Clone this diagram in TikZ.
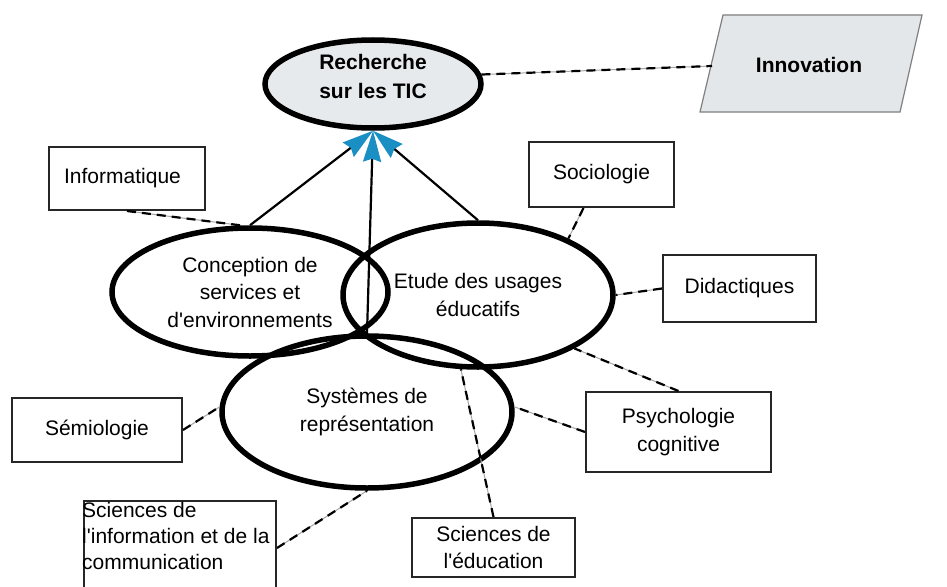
\documentclass[tikz,border=0pt]{standalone}
\usepackage{fontspec}
\setmainfont{Liberation Sans}
\usetikzlibrary{arrows.meta,shapes.geometric}
\definecolor{tipblue}{HTML}{1A8FC4}
\definecolor{topfill}{HTML}{E6EAEC}
\definecolor{innofill}{HTML}{E3E7E9}
\begin{document}
\begin{tikzpicture}[x=1pt,y=-1pt,
  lbl/.style={font=\fontsize{21}{27.5}\selectfont, align=center},
  disc/.style={draw=black, line width=5.5pt, ellipse, inner sep=0pt, lbl},
  boxn/.style={draw=black!85, line width=2pt, rectangle, inner sep=0pt, lbl},
  link/.style={draw=black, line width=2.2pt, dash pattern=on 9pt off 6pt,
     preaction={draw=black!35, line width=1pt, solid}},
  feed/.style={draw=black, line width=2.2pt,
     -{Stealth[length=31pt,width=18pt,inset=3pt,color=tipblue]}}
]
\useasboundingbox[fill=white] (0,0) rectangle (947,586);

% top node and Innovation
\node[disc, fill=topfill, minimum width=216pt, minimum height=88pt,
      font=\fontsize{21}{29}\selectfont\bfseries] (top) at (373,84)
      {\raisebox{1pt}[0pt][0pt]{\begin{tabular}{@{}c@{}}Recherche\\[0pt]sur les TIC\end{tabular}}};
\coordinate (innoBL) at (700,112);
\coordinate (innoTL) at (723,15);
\coordinate (innoTR) at (922,15);
\coordinate (innoBR) at (900,112);
\coordinate (innoL) at (712,66);
\draw[draw=black!50, line width=1.2pt, fill=innofill]
  (innoBL) -- (innoTL) -- (innoTR) -- (innoBR) -- cycle;
\node[font=\fontsize{21}{27}\selectfont\bfseries] (inno) at (809,65) {Innovation};

% main areas
\node[disc, minimum width=276pt, minimum height=128pt] (conc) at (250,292)
      {Conception de\\services et\\d\textquotesingle environnements};
\node[disc, minimum width=270pt, minimum height=144pt] (usage) at (478,295)
      {Etude des usages\\éducatifs};
\node[disc, minimum width=290pt, minimum height=152pt] (sys) at (367,412)
      {Systèmes de\\représentation};

% boxes
\node[boxn, minimum width=156pt, minimum height=63pt] (info) at (127,178.5)
      {\hspace*{-9pt}Informatique};
\node[boxn, minimum width=145pt, minimum height=65pt] (soc) at (601.5,174.5) {Sociologie};
\node[boxn, minimum width=153pt, minimum height=67pt] (did) at (739.5,288.5) {Didactiques};
\node[boxn, minimum width=185pt, minimum height=80pt] (psy) at (678.5,432) {Psychologie\\cognitive};
\node[boxn, minimum width=163pt, minimum height=59pt] (sed) at (493.5,547.5)
      {Sciences de\\l\textquotesingle éducation};
\node[boxn, minimum width=170pt, minimum height=64pt] (sem) at (97,430) {Sémiologie};
\node[boxn, minimum width=192pt, minimum height=120pt, anchor=north west] (sic) at (83,500) {};
\node[lbl, align=left, anchor=north west, inner sep=0pt,
      font=\fontsize{21}{26}\selectfont] (sicT) at (82,502)
      {Sciences de\\l\textquotesingle information et de la\\communication};

% arrows to the top
\draw[feed] (conc.north) -- (top.south);
\draw[feed] (sys.north) -- (top.south);
\draw[feed] (usage.north) -- (top.south);

% dashed links
\draw[link] (top.5) -- (innoL);
\draw[link] (info.south) -- ([xshift=-10pt]conc.north);
\draw[link] ([xshift=-18pt]soc.south) -- (usage.32);
\draw[link] (did.west) -- (usage.east);
\draw[link] (psy.north) -- (usage.-29);
\draw[link] (psy.west) -- (sys.2);
\draw[link] (sed.north) -- (usage.-103);
\draw[link] (sem.east) -- (sys.178);
\draw[link] (sic.east |- 0,548) -- (sys.south);
\end{tikzpicture}
\end{document}
